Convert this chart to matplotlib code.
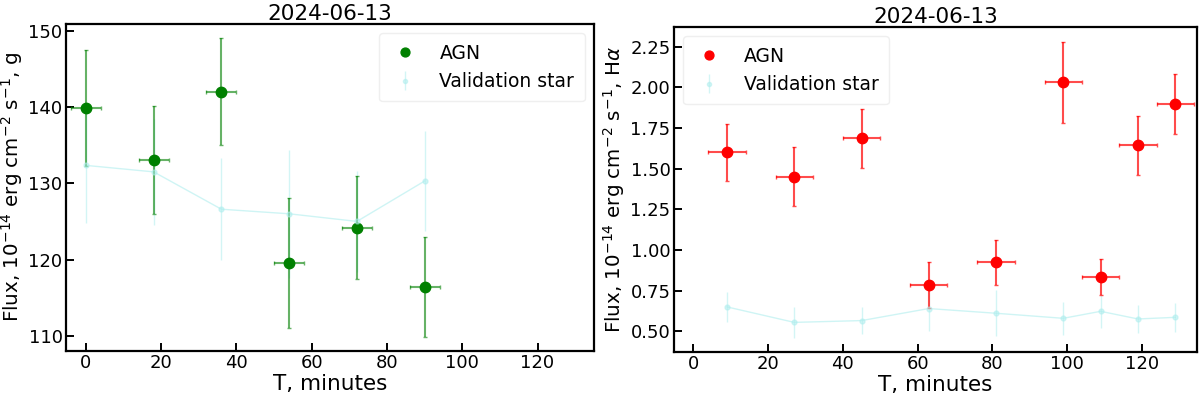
import matplotlib
matplotlib.use("Agg")
import matplotlib.pyplot as plt

# Left panel (g band)
t_g = [0, 18, 36, 54, 72, 90]
agn_g = [139.9, 133.05, 142.0, 119.55, 124.2, 116.4]
agn_g_err = [7.6, 7.1, 7.0, 8.5, 6.8, 6.6]
star_g = [132.35, 131.5, 126.6, 126.0, 125.0, 130.3]
star_g_err = [7.5, 7.0, 6.7, 8.4, 6.6, 6.5]
t_g_err = 4

# Right panel (Halpha)
t_h = [9, 27, 45, 63, 81, 99, 109, 119, 129]
agn_h = [1.60, 1.45, 1.686, 0.783, 0.924, 2.029, 0.836, 1.643, 1.897]
agn_h_err = [0.175, 0.18, 0.18, 0.14, 0.14, 0.25, 0.11, 0.18, 0.185]
star_h = [0.65, 0.555, 0.566, 0.640, 0.611, 0.580, 0.623, 0.576, 0.586]
star_h_err = [0.092, 0.096, 0.085, 0.135, 0.14, 0.10, 0.105, 0.085, 0.09]
t_h_err = 5

title = "2024-06-13"
FS_LABEL = 15.5
FS_YLABEL = 14.3
FS_TICK = 13
FS_LEG = 13.5

plt.rcParams['font.family'] = ['DejaVu Sans']
fig = plt.figure(figsize=(12, 3.97), dpi=100)
ax1 = fig.add_axes([66 / 1200, 1 - 351 / 397, (594 - 66) / 1200, (351 - 24) / 397])
ax2 = fig.add_axes([674 / 1200, 1 - 352 / 397, (1197 - 674) / 1200, (352 - 27) / 397])

STAR_C = 'paleturquoise'


def style(ax):
    for s in ax.spines.values():
        s.set_linewidth(1.6)
    ax.tick_params(direction='in', length=5.5, width=1.4, pad=2.5, labelsize=FS_TICK)


def draw(ax, t, agn, agn_err, terr, star, star_err, col, ecol):
    ax.plot(t, star, '-', color=STAR_C, linewidth=1, alpha=0.6)
    hs = ax.errorbar(t, star, yerr=star_err, fmt='o', color=STAR_C, ecolor=STAR_C,
                     markersize=3.5, elinewidth=1, alpha=0.55)
    ax.errorbar(t, agn, yerr=agn_err, xerr=terr, fmt='none', ecolor=ecol,
                elinewidth=1.5, capsize=1.5)
    ha, = ax.plot(t, agn, 'o', color=col, markersize=7.5, linestyle='none')
    return ha, hs


leg_kw = dict(fontsize=FS_LEG, edgecolor='0.92', borderpad=0.55, handlelength=1.67,
              handletextpad=1.0, markerscale=0.85)

ha, hs = draw(ax1, t_g, agn_g, agn_g_err, t_g_err, star_g, star_g_err, 'green', (0, 0.5, 0, 0.6))
ax1.set_xlim(-5.3, 135)
ax1.set_ylim(108.0, 150.9)
ax1.set_yticks([110, 120, 130, 140, 150])
ax1.set_xticks([0, 20, 40, 60, 80, 100, 120])
ax1.set_xlabel('T, minutes', fontsize=FS_LABEL, labelpad=1)
ax1.set_ylabel(r'Flux, $10^{-14}$ erg cm$^{-2}$ s$^{-1}$, g', fontsize=FS_YLABEL, labelpad=2.5)
ax1.set_title(title, fontsize=FS_LABEL, pad=2)
style(ax1)
ax1.legend([ha, hs], ['AGN', 'Validation star'], loc='upper right', **leg_kw)

ha, hs = draw(ax2, t_h, agn_h, agn_h_err, t_h_err, star_h, star_h_err, 'red', (1, 0, 0, 0.7))
ax2.set_xlim(-5.2, 134.8)
ax2.set_ylim(0.373, 2.37)
ax2.set_yticks([0.5, 0.75, 1.0, 1.25, 1.5, 1.75, 2.0, 2.25])
ax2.set_xticks([0, 20, 40, 60, 80, 100, 120])
ax2.set_xlabel('T, minutes', fontsize=FS_LABEL, labelpad=1)
ax2.set_ylabel(r'Flux, $10^{-14}$ erg cm$^{-2}$ s$^{-1}$, H$\alpha$', fontsize=FS_YLABEL, labelpad=2.5)
ax2.set_title(title, fontsize=FS_LABEL, pad=2)
style(ax2)
ax2.legend([ha, hs], ['AGN', 'Validation star'], loc='upper left', **leg_kw)

fig.savefig('out.png', dpi=100)
